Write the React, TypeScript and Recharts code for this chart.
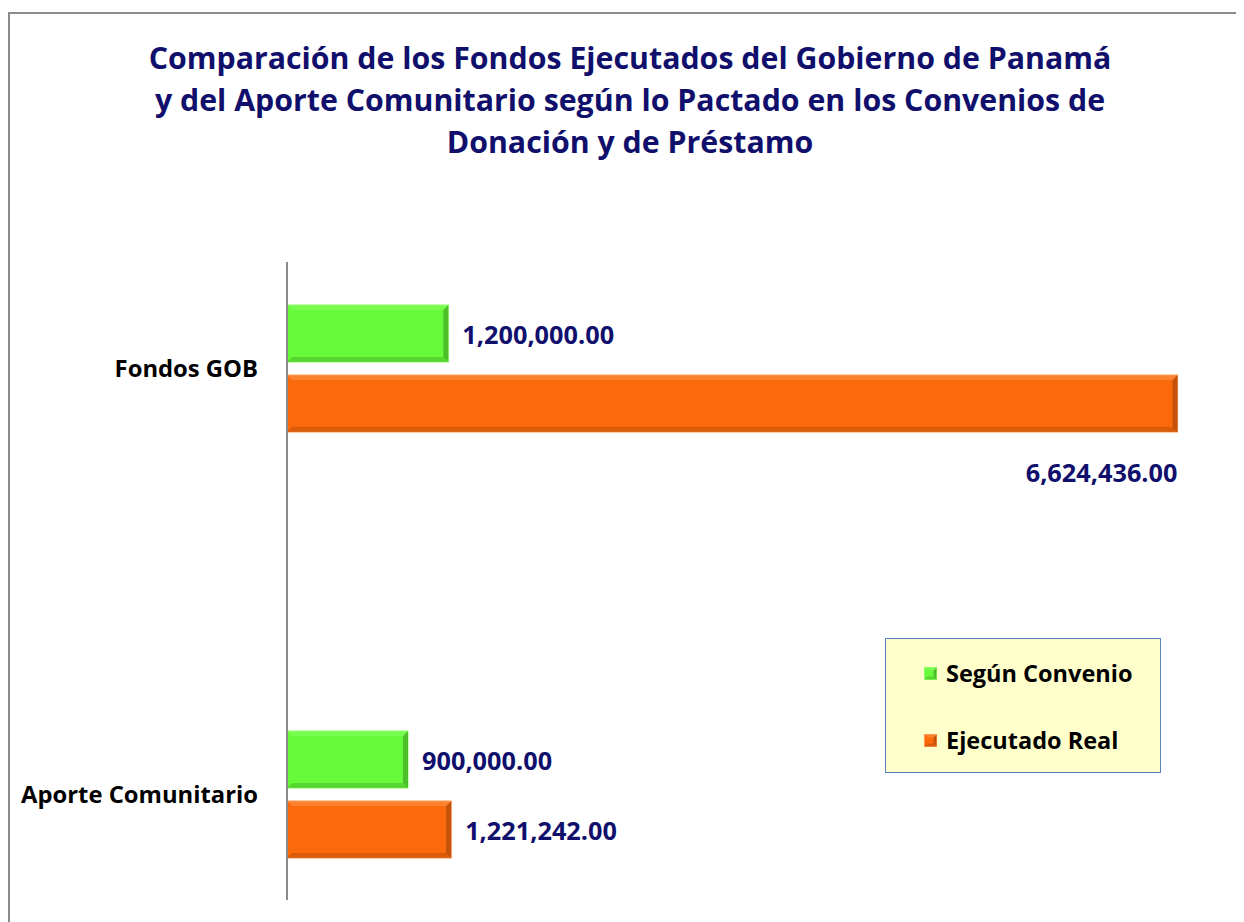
import React from "react";
import { BarChart, Bar, XAxis, YAxis, Legend, LabelList } from "recharts";

const categories = ["Fondos GOB", "Aporte Comunitario"];
const segunConvenio = [1200000, 900000];
const ejecutadoReal = [6624436, 1221242];
const seriesNames = ["Según Convenio", "Ejecutado Real"];
const titleLines = [
  "Comparación de los Fondos Ejecutados del Gobierno de Panamá",
  "y del Aporte Comunitario según lo Pactado en los Convenios de",
  "Donación y de Préstamo",
];

const data = categories.map((name, i) => ({
  name,
  convenio: segunConvenio[i],
  real: ejecutadoReal[i],
}));

const FONT = "'Open Sans', Lato, sans-serif";
const NAVY = "#10106c";
const GREEN = { base: "#66fa3a", dark: "#4cbf2a", light: "#8cff66" };
const ORANGE = { base: "#fa6a0a", dark: "#c4520a", light: "#ff9a55" };

const fmt = (v: number) =>
  v.toLocaleString("en-US", { minimumFractionDigits: 2, maximumFractionDigits: 2 });

const bevel = (c: { base: string; dark: string; light: string }) => (props: any) => {
  const { x, y, width: w, height: h } = props;
  const b = Math.min(5, w / 4);
  return (
    <g>
      <rect x={x} y={y} width={w} height={h} fill={c.base} stroke={c.light} strokeWidth={1} />
      <polygon
        points={`${x + w - b},${y + b} ${x + w},${y} ${x + w},${y + h} ${x + w - b},${y + h - b}`}
        fill={c.dark}
      />
      <polygon
        points={`${x},${y + h} ${x + b},${y + h - b} ${x + w - b},${y + h - b} ${x + w},${y + h}`}
        fill={c.dark}
        opacity={0.6}
      />
      <polygon
        points={`${x},${y} ${x + w},${y} ${x + w - b},${y + b} ${x + b},${y + b}`}
        fill={c.light}
        opacity={0.5}
      />
    </g>
  );
};

const valueLabel = (props: any) => {
  const { x, y, width, height, value } = props;
  const end = x + width;
  // long bar: Excel moved its label under the bar end
  if (end > 900) {
    return (
      <text x={end} y={y + height + 40} textAnchor="end" dominantBaseline="central"
        fill={NAVY} fontFamily={FONT} fontWeight={700} fontSize={25.3}>
        {fmt(value)}
      </text>
    );
  }
  return (
    <text x={end + 14} y={y + height / 2} textAnchor="start" dominantBaseline="central"
      fill={NAVY} fontFamily={FONT} fontWeight={700} fontSize={25.3}>
      {fmt(value)}
    </text>
  );
};

const CategoryTick = (props: any) => {
  const { x, y, payload } = props;
  return (
    <text x={x} y={y} textAnchor="end" dominantBaseline="central"
      fill="#000" fontFamily={FONT} fontWeight={700} fontSize={23.8}>
      {payload.value}
    </text>
  );
};

const Swatch = ({ c }: { c: { base: string; dark: string; light: string } }) => (
  <svg width={13} height={13} style={{ marginRight: 9 }}>
    {bevel(c)({ x: 0.5, y: 0.5, width: 12, height: 12 })}
  </svg>
);

const LegendBox = () => (
  <div style={{
    width: 276, height: 135, boxSizing: "border-box", background: "#ffffcc",
    border: "1px solid #5b86c5", fontFamily: FONT, fontWeight: 700, fontSize: 23.5,
    color: "#000", paddingLeft: 38, paddingTop: 21,
  }}>
    <div style={{ display: "flex", alignItems: "center", height: 26 }}>
      <Swatch c={GREEN} />{seriesNames[0]}
    </div>
    <div style={{ display: "flex", alignItems: "center", height: 26, marginTop: 41 }}>
      <Swatch c={ORANGE} />{seriesNames[1]}
    </div>
  </div>
);

export default function App() {
  return (
    <div style={{ position: "relative", width: 1236, height: 914 }}>
      <div style={{
        position: "absolute", left: 0, top: 4, right: 0, bottom: 0,
        borderTop: "2px solid #8c8c8c", borderLeft: "2px solid #8c8c8c",
      }} />
      <div style={{
        position: "absolute", left: 0, width: 1244, top: 29, textAlign: "center",
        fontFamily: FONT, fontWeight: 700, fontSize: 30.3, lineHeight: "42px", color: NAVY,
      }}>
        {titleLines.map((t) => <div key={t}>{t}</div>)}
      </div>
      <BarChart
        width={1236}
        height={914}
        data={data}
        layout="vertical"
        barSize={57}
        barGap={13}
        margin={{ top: 254, right: 16, bottom: 22, left: 19 }}
        style={{ position: "absolute", left: 0, top: 0 }}
      >
        <XAxis type="number" domain={[0, 7000000]} hide />
        <YAxis
          type="category"
          dataKey="name"
          width={260}
          tickLine={false}
          tickMargin={23}
          axisLine={{ stroke: "#8c8c8c", strokeWidth: 2 }}
          padding={{ top: -107, bottom: -107 }}
          tick={<CategoryTick />}
        />
        <Legend
          layout="vertical"
          align="center"
          verticalAlign="middle"
          content={<LegendBox />}
          wrapperStyle={{ left: 877, top: 630, width: 276, height: 135 }}
        />
        <Bar dataKey="convenio" name={seriesNames[0]} fill={GREEN.base}
          shape={bevel(GREEN)} isAnimationActive={false}>
          <LabelList dataKey="convenio" content={valueLabel} />
        </Bar>
        <Bar dataKey="real" name={seriesNames[1]} fill={ORANGE.base}
          shape={bevel(ORANGE)} isAnimationActive={false}>
          <LabelList dataKey="real" content={valueLabel} />
        </Bar>
      </BarChart>
    </div>
  );
}
